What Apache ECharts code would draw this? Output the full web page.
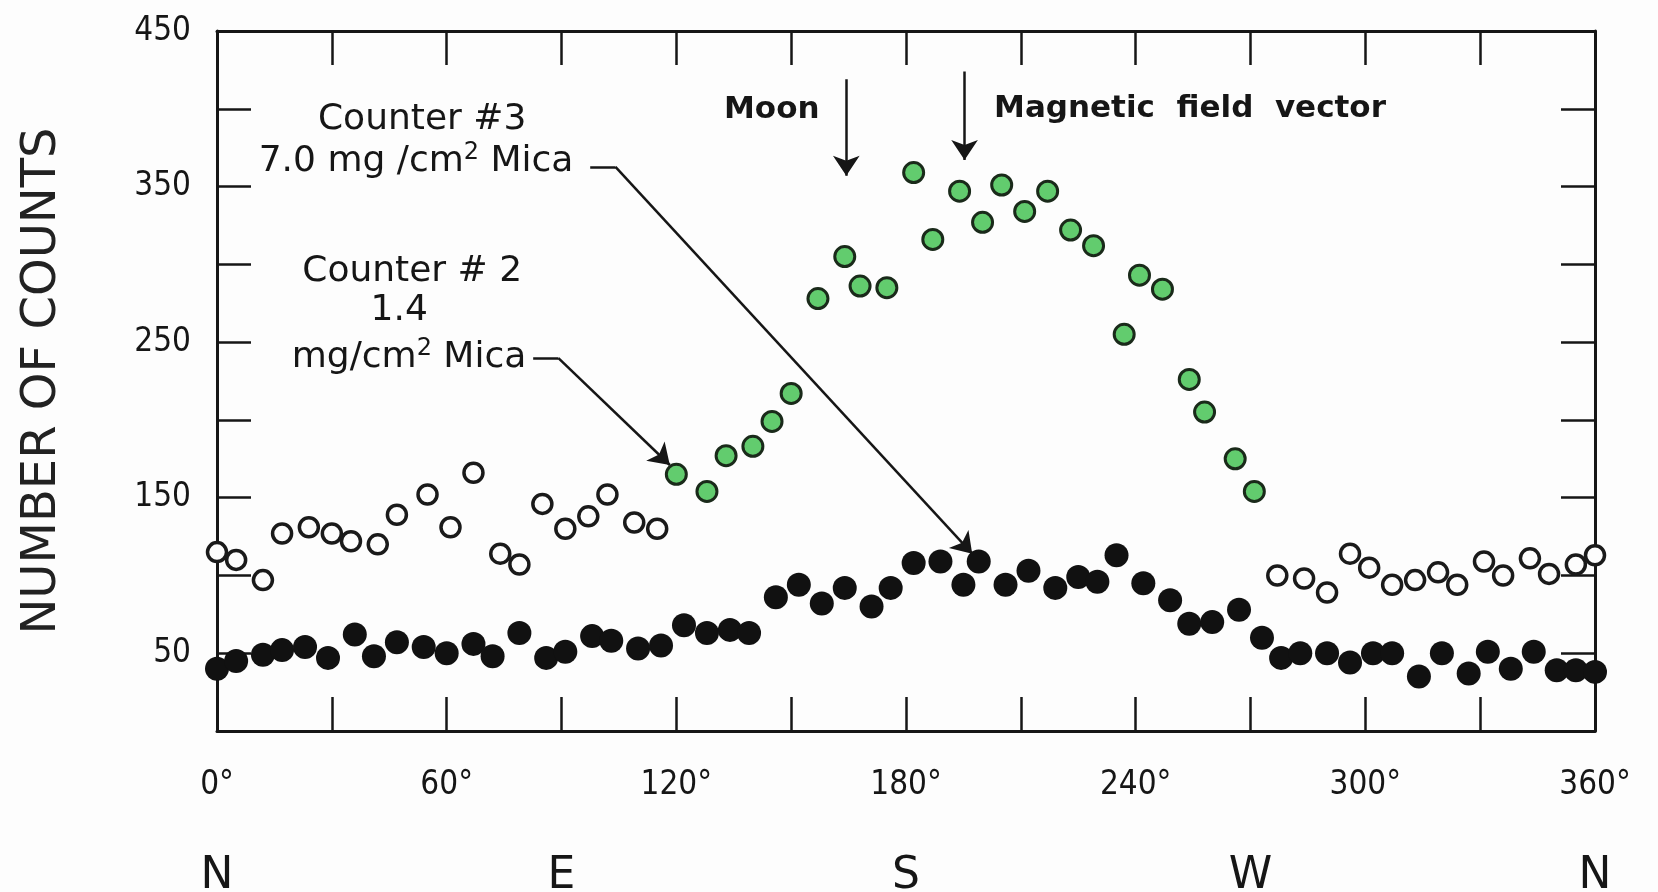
<!DOCTYPE html>
<html>
<head>
<meta charset="utf-8">
<title>Counts vs azimuth</title>
<script src="https://cdn.jsdelivr.net/npm/echarts@6/dist/echarts.min.js"></script>
<style>
  html, body { margin: 0; padding: 0; background: #fdfdfd; }
  #chart { width: 1658px; height: 892px; }
</style>
</head>
<body>
<div id="chart"></div>
<script>
// azimuth (deg) and counts
var counter3Angle = [0, 5, 12, 17, 23, 29, 36, 41, 47, 54, 60, 67, 72, 79, 86, 91, 98, 103, 110, 116,
    122, 128, 134, 139, 146, 152, 158, 164, 171, 176, 182, 189, 195, 199, 206, 212, 219, 225, 230, 235,
    242, 249, 254, 260, 267, 273, 278, 283, 290, 296, 302, 307, 314, 320, 327, 332, 338, 344, 350, 355, 360];
var counter3Counts = [40, 45, 49, 52, 54, 47, 62, 48, 57, 54, 50, 56, 48, 63, 47, 51, 61, 58, 53, 55,
    68, 63, 65, 63, 86, 94, 82, 92, 80, 92, 108, 109, 94, 109, 94, 103, 92, 99, 96, 113,
    95, 84, 69, 70, 78, 60, 47, 50, 50, 44, 50, 50, 35, 50, 37, 51, 40, 51, 39, 39, 38];

// counter #2, open circles (before and after the source)
var counter2OpenAngle = [0, 5, 12, 17, 24, 30, 35, 42, 47, 55, 61, 67, 74, 79, 85, 91, 97, 102, 109, 115,
    277, 284, 290, 296, 301, 307, 313, 319, 324, 331, 336, 343, 348, 355, 360];
var counter2OpenCounts = [115, 110, 97, 127, 131, 127, 122, 120, 139, 152, 131, 166, 114, 107, 146, 130, 138, 152, 134, 130,
    100, 98, 89, 114, 105, 94, 97, 102, 94, 109, 100, 111, 101, 107, 113];

// counter #2, green circles (the peak)
var counter2PeakAngle = [120, 128, 133, 140, 145, 150, 157, 164, 168, 175, 182, 187, 194, 200, 205, 211,
    217, 223, 229, 237, 241, 247, 254, 258, 266, 271];
var counter2PeakCounts = [165, 154, 177, 183, 199, 217, 278, 305, 286, 285, 359, 316, 347, 327, 351, 334,
    347, 322, 312, 255, 293, 284, 226, 205, 175, 154];

var yTickLabels = [50, 150, 250, 350, 450];
var compassLabels = {0: 'N', 90: 'E', 180: 'S', 270: 'W', 360: 'N'};

function pairs(xs, ys) {
    var res = [];
    for (var i = 0; i < xs.length; i++) {
        res.push([xs[i], ys[i]]);
    }
    return res;
}

var numFont = '"DejaVu Sans Condensed", "DejaVu Sans", sans-serif';
var textFont = '"DejaVu Sans", sans-serif';
var ink = '#161616';

var chart = echarts.init(document.getElementById('chart'));

function ticks() {
    return {show: true, inside: true, length: 34, lineStyle: {color: ink, width: 2.5}};
}
function frameLine() {
    return {show: true, onZero: false, lineStyle: {color: ink, width: 3}};
}

var option = {
    backgroundColor: '#fdfdfd',
    animation: false,
    grid: {left: 217, right: 63, top: 31, bottom: 161, containLabel: false, outerBoundsMode: 'none'},
    xAxis: [
        {
            type: 'value', position: 'bottom', min: 0, max: 360, interval: 30,
            axisLine: frameLine(),
            axisTick: ticks(),
            splitLine: {show: false},
            axisLabel: {
                margin: 38, fontSize: 33, fontFamily: numFont, color: ink,
                showMinLabel: true, showMaxLabel: true,
                formatter: function(v) { return v % 60 === 0 ? v + '°' : ''; }
            }
        },
        {
            type: 'value', position: 'top', min: 0, max: 360, interval: 30,
            axisLine: frameLine(),
            axisTick: ticks(),
            splitLine: {show: false},
            axisLabel: {show: false}
        },
        {
            type: 'value', position: 'bottom', min: 0, max: 360, interval: 90,
            axisLine: {show: false, onZero: false}, axisTick: {show: false}, splitLine: {show: false},
            axisLabel: {
                margin: 124, fontSize: 44, fontFamily: textFont, color: ink,
                showMinLabel: true, showMaxLabel: true,
                formatter: function(v) { return compassLabels[v] || ''; }
            }
        }
    ],
    yAxis: [
        {
            type: 'value', position: 'left', min: 0, max: 450, interval: 50,
            name: 'NUMBER OF COUNTS', nameLocation: 'middle', nameGap: 150, nameRotate: 90,
            nameTextStyle: {fontSize: 48, fontFamily: textFont, color: '#222'},
            axisLine: frameLine(),
            axisTick: ticks(),
            splitLine: {show: false},
            axisLabel: {
                margin: 26, fontSize: 33, fontFamily: numFont, color: ink,
                showMaxLabel: true,
                formatter: function(v) { return yTickLabels.indexOf(v) >= 0 ? String(v) : ''; }
            }
        },
        {
            type: 'value', position: 'right', min: 0, max: 450, interval: 50,
            axisLine: frameLine(),
            axisTick: ticks(),
            splitLine: {show: false},
            axisLabel: {show: false}
        }
    ],
    series: [
        {
            name: 'Counter #3',
            type: 'scatter',
            data: pairs(counter3Angle, counter3Counts),
            symbol: 'circle', symbolSize: 24,
            itemStyle: {color: '#111', opacity: 1}
        },
        {
            name: 'Counter #2',
            type: 'scatter',
            data: pairs(counter2OpenAngle, counter2OpenCounts),
            symbol: 'circle', symbolSize: 19,
            itemStyle: {color: '#fdfdfd', borderColor: '#1a1a1a', borderWidth: 3.5, opacity: 1}
        },
        {
            name: 'Counter #2 peak',
            type: 'scatter',
            data: pairs(counter2PeakAngle, counter2PeakCounts),
            symbol: 'circle', symbolSize: 20,
            itemStyle: {color: '#62cc6e', borderColor: '#1a2a1a', borderWidth: 3, opacity: 1}
        },
        // short horizontal stubs after the "Mica" labels
        {
            type: 'lines',
            coordinateSystem: 'cartesian2d',
            silent: true,
            symbol: 'none',
            lineStyle: {color: ink, width: 2.5, opacity: 1, curveness: 0},
            data: [
                {coords: [[97.5, 362.7], [104.1, 362.7]]},
                {coords: [[82.6, 239.7], [89.2, 239.7]]}
            ]
        },
        // arrows
        {
            type: 'lines',
            coordinateSystem: 'cartesian2d',
            silent: true,
            symbol: ['none', 'arrow'],
            symbolSize: [0, 20],
            lineStyle: {color: ink, width: 2.5, opacity: 1, curveness: 0},
            itemStyle: {color: ink},
            data: [
                {coords: [[104.1, 362.7], [197.3, 114]]},
                {coords: [[89.2, 239.7], [118.3, 171]]},
                {coords: [[164.4, 419], [164.4, 357]]},
                {coords: [[195.3, 424], [195.3, 367]]}
            ]
        }
    ]
};

chart.setOption(option);

// labels placed in data space
function at(x, y) {
    return chart.convertToPixel({gridIndex: 0}, [x, y]);
}

function note(pos, text, align, extra) {
    var p = at(pos[0], pos[1]);
    var style = {
        text: text, x: 0, y: 0, fill: ink,
        font: '36px ' + textFont,
        align: align, verticalAlign: 'middle'
    };
    for (var k in extra) style[k] = extra[k];
    return {type: 'text', x: p[0], y: p[1], silent: true, style: style};
}

var rich = {
    a: {fontSize: 36, fontFamily: textFont, fill: ink, lineHeight: 42},
    s: {fontSize: 24, fontFamily: textFont, fill: ink, verticalAlign: 'top', lineHeight: 42}
};
var bold = {font: 'bold 31px ' + textFont};

chart.setOption({
    graphic: [
        note([53.6, 393], 'Counter #3', 'center'),
        note([93.1, 366], '{a|7.0 mg /cm}{s|2}{a| Mica}', 'right', {rich: rich}),
        note([51, 295], 'Counter # 2', 'center'),
        note([47.6, 270], '1.4', 'center'),
        note([80.8, 240], '{a|mg/cm}{s|2}{a| Mica}', 'right', {rich: rich}),
        note([157.4, 399], 'Moon', 'right', bold),
        note([203, 400], 'Magnetic  field  vector', 'left', bold)
    ]
});
</script>
</body>
</html>
